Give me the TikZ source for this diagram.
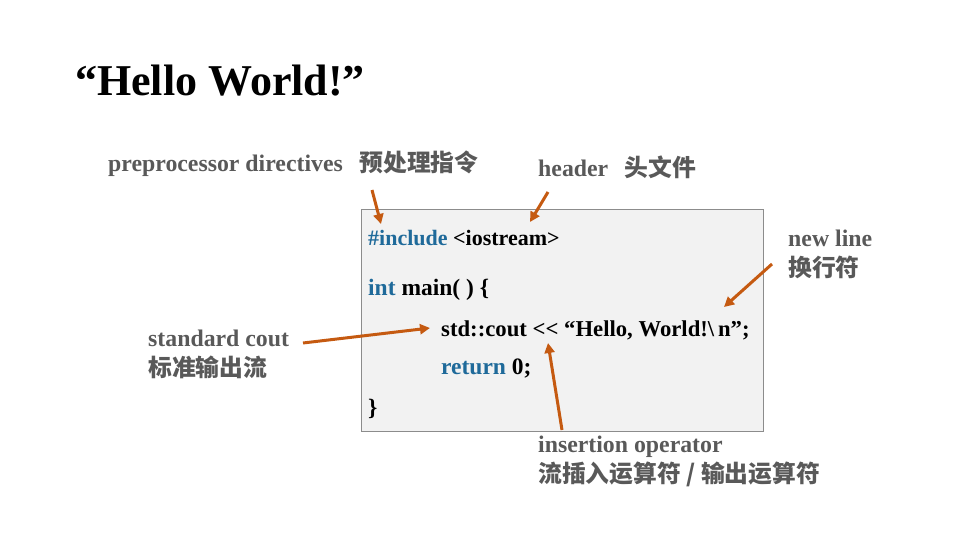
\documentclass[tikz,border=0pt]{standalone}
\usepackage{fontspec}
\setmainfont{Liberation Serif}
\newfontfamily\cjk{Noto Sans CJK SC}
\usetikzlibrary{arrows.meta,positioning}
\definecolor{arrorange}{HTML}{C55A11}
\definecolor{lblgray}{HTML}{595959}
\definecolor{codeblue}{HTML}{1F6A9A}
\definecolor{boxfill}{HTML}{F2F2F2}
\definecolor{boxline}{HTML}{8C8C8C}

\begin{document}
\begin{tikzpicture}[x=1pt, y=-1pt,
    lbl/.style={anchor=west, inner sep=0pt, text=lblgray, align=left, font=\fontsize{23.8}{30}\selectfont\bfseries},
    codeline/.style={anchor=west, inner sep=0pt, font=\fontsize{23.5}{25}\selectfont\bfseries},
    arr/.style={-{Triangle[length=10pt, width=10pt]}, line width=3pt, arrorange}
  ]
    \useasboundingbox (0,0) rectangle (960,540);
    \node[anchor=west, inner sep=0pt, font=\fontsize{44}{50}\selectfont\bfseries] (title) at (75,81) {“Hello World!”};

    \node[draw=boxline, fill=boxfill, line width=1pt, minimum width=402pt, minimum height=222pt] (box) at (562,320) {};
    \node[codeline, font=\fontsize{22}{25}\selectfont\bfseries] (inc) at (368,238) {\textcolor{codeblue}{\#include} <iostream>};
    \node[codeline] (main) at (368,290) {\textcolor{codeblue}{int} main( ) \{};
    \node[codeline, font=\fontsize{22.7}{25}\selectfont\bfseries] (cout) at (441,330) {std::cout <{}< “Hello, World!\textbackslash\,n”;};
    \node[codeline] (ret) at (441,369) {\textcolor{codeblue}{return} 0;};
    \node[codeline] (close) at (368,409) {\}};

    \node[lbl] (pre) at (108,164) {preprocessor directives\hspace{0.7em}{\cjk 预处理指令}};
    \node[lbl] (hdr) at (538,167) {header\hspace{0.7em}{\cjk 头文件}};
    \node[lbl] (nl) at (788,254) {new line\\{\cjk 换行符}};
    \node[lbl] (std) at (148,354) {standard cout\\{\cjk 标准输出流}};
    \node[lbl] (ins) at (538,461) {insertion operator\\{\cjk 流插入运算符 / 输出运算符}};

    \coordinate (pre-a) at (372,190);
    \coordinate (pre-b) at (381,224);
    \coordinate (hdr-a) at (548,192);
    \coordinate (hdr-b) at (530,222);
    \coordinate (nl-a) at (772,264);
    \coordinate (nl-b) at (724,307);
    \coordinate (std-a) at (303,343);
    \coordinate (std-b) at (430,328);
    \coordinate (ins-a) at (562,430);
    \coordinate (ins-b) at (548,343);

    \draw[arr] (pre-a) -- (pre-b);
    \draw[arr] (hdr-a) -- (hdr-b);
    \draw[arr] (nl-a) -- (nl-b);
    \draw[arr] (std-a) -- (std-b);
    \draw[arr] (ins-a) -- (ins-b);
  \end{tikzpicture}
\end{document}
